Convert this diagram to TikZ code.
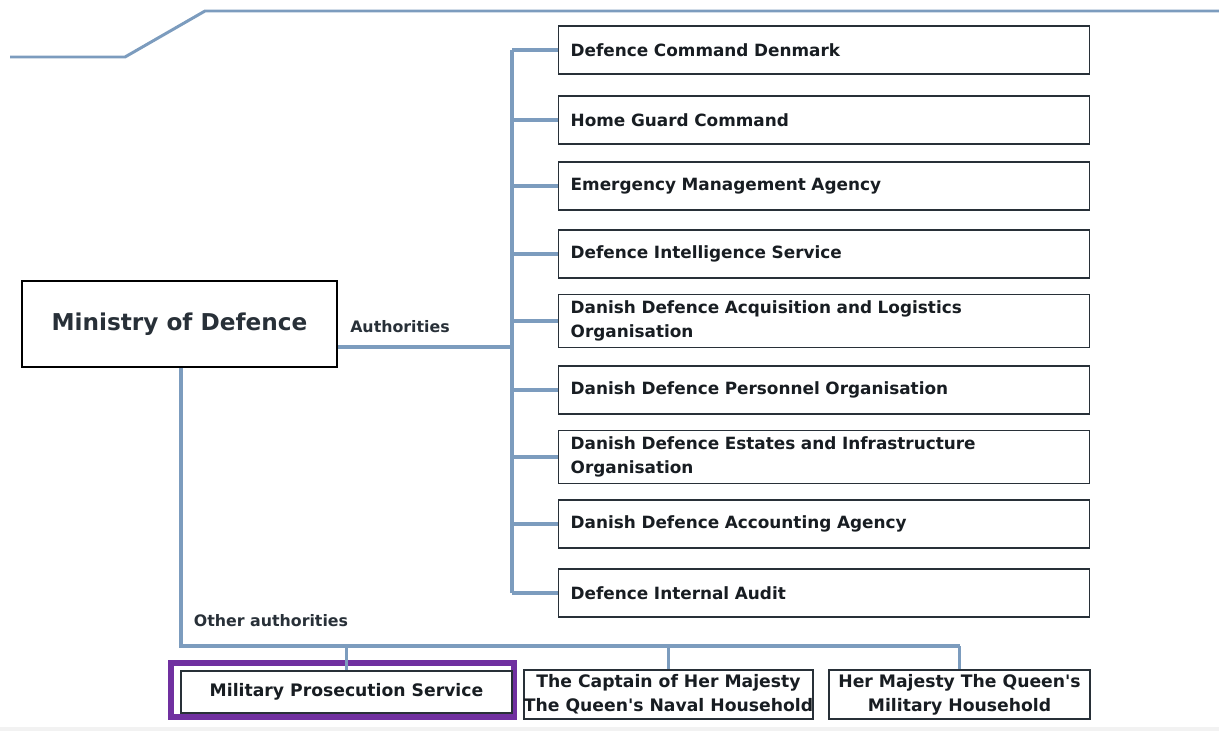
\documentclass[tikz,border=0pt]{standalone}
\usepackage{fontspec}
\setmainfont{DejaVu Sans}
\usepackage{xcolor}
\usetikzlibrary{positioning,calc}
\definecolor{linkblue}{RGB}{124,156,190}
\definecolor{boxedge}{RGB}{40,48,56}
\definecolor{hlpurple}{RGB}{112,48,160}

\begin{document}
\begin{tikzpicture}[x=0.02cm, y=-0.02cm,
    link/.style={linkblue, line width=2.2pt},
    unit/.style={draw=boxedge, line width=0.8pt, fill=white, anchor=west,
      minimum height=0.96cm, text width=10.14cm, inner xsep=0.24cm,
      align=left, font=\bfseries\fontsize{9.6}{14}\selectfont, text=boxedge!60!black},
    other/.style={draw=boxedge, line width=0.8pt, fill=white, align=center,
      inner sep=0pt, font=\bfseries\fontsize{9.8}{13.6}\selectfont, text=boxedge!60!black},
    lbl/.style={inner sep=0pt, font=\bfseries\fontsize{9}{11}\selectfont, text=boxedge}]
        \useasboundingbox (0,0) rectangle (1219,731);
        % Faixa de topo e rodapé
        \draw[linkblue, line width=1.7pt] (10,57) -- (125,57) -- (205,11) -- (1219,11);
        \fill[gray!10] (0,727) rectangle (1219,731);
        % Ministério
        \node[draw=black, line width=1.2pt, minimum width=6.3cm, minimum height=1.72cm,
          font=\bfseries\fontsize{13.2}{16}\selectfont, text=boxedge] (mod) at (179.5,324) {Ministry of Defence};
        % Autoridades subordinadas
        \coordinate (trunk) at (512,347);
        \foreach \n/\y/\t in {cmd/50/{Defence Command Denmark},
            hgc/120/{Home Guard Command},
            ema/186/{Emergency Management Agency},
            dis/254/{Defence Intelligence Service},
            ddalo/321/{Danish Defence Acquisition and Logistics\\Organisation},
            ddpo/390/{Danish Defence Personnel Organisation},
            ddeio/457/{Danish Defence Estates and Infrastructure\\Organisation},
            ddaa/524/{Danish Defence Accounting Agency},
            dia/593/{Defence Internal Audit}}
          {\node[unit] (\n) at (558,\y) {\t};
           \draw[link] (trunk |- \n.west) -- (\n.west);}
        \draw[link] (trunk |- cmd.west) -- (trunk |- dia.west);
        \draw[link] (mod.east |- trunk) -- (trunk);
        \node[lbl] (authlbl) at (400,327) {Authorities};
        % Outras autoridades
        \node[draw=hlpurple, line width=3.4pt, minimum width=6.86cm, minimum height=1.08cm] (hl) at (342.5,690) {};
        \node[other, minimum width=6.62cm, minimum height=0.84cm] (mps) at (346.5,692) {Military Prosecution Service};
        \node[other, minimum width=5.78cm, minimum height=0.98cm] (naval) at (668.5,694.5) {The Captain of Her Majesty\\The Queen\textquotesingle s Naval Household};
        \node[other, minimum width=5.22cm, minimum height=0.98cm] (milhh) at (959.5,694.5) {Her Majesty The Queen\textquotesingle s\\Military Household};
        \coordinate (bus) at (181,646);
        \draw[link] (mod.south -| bus) -- (bus) -- (bus -| milhh.north);
        \foreach \n in {mps,naval,milhh}
          \draw[link] (bus -| \n.north) -- (\n.north);
        \node[lbl] (otherlbl) at (271,621) {Other authorities};
    \end{tikzpicture}
\end{document}
